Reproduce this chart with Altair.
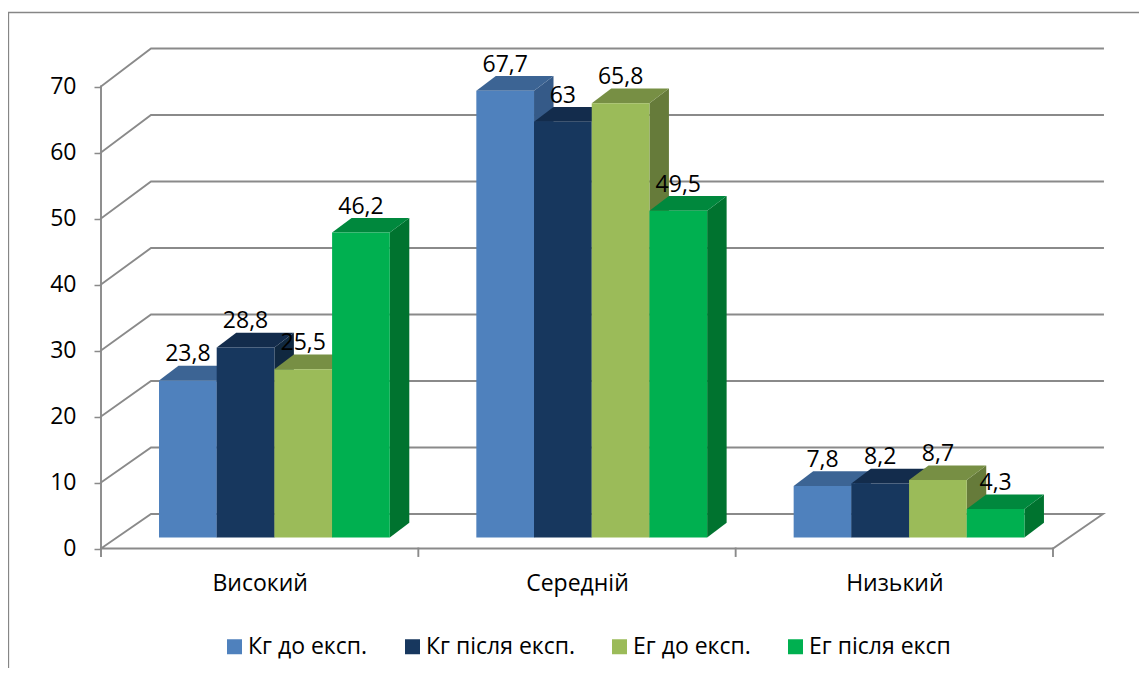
import json
import altair as alt
import pandas as pd

categories = ["Високий", "Середній", "Низький"]
series = ["Кг до експ.", "Кг після експ.", "Ег до експ.", "Ег після експ"]
values = {
    "Кг до експ.": [23.8, 67.7, 7.8],
    "Кг після експ.": [28.8, 63, 8.2],
    "Ег до експ.": [25.5, 65.8, 8.7],
    "Ег після експ": [46.2, 49.5, 4.3],
}
front_colors = ["#4F81BD", "#17375E", "#9BBB59", "#00B050"]
top_colors = ["#3C6494", "#132C4C", "#778F44", "#00883D"]
side_colors = ["#355A88", "#102840", "#667B3A", "#00732F"]
y_ticks = [0, 10, 20, 30, 40, 50, 60, 70]
x_ticks = [0, 1, 2, 3]

FONT = "Open Sans"
GREY = "#8A8A8A"
W, H = 1131, 660
PX_PER_CAT = 317.33
PX_PER_VAL = 6.6
X0_PX, Y0_PX = 101, 548.5


def cx(px):
    return (px - X0_PX) / PX_PER_CAT


def vy(py):
    return (Y0_PX - py) / PX_PER_VAL


x_scale = alt.Scale(domain=[cx(8), cx(8 + W)], range=[0, W], nice=False, zero=False)
y_scale = alt.Scale(domain=[vy(8 + H), vy(8)], range=[H, 0], nice=False, zero=False)

BAR_START = cx(159)
BAR_W = 57.7 / PX_PER_CAT
BASE = vy(537.5)
DX = 19.5 / PX_PER_CAT
DY = 14.7 / PX_PER_VAL
BACK_U = cx(151)
BACK_END = cx(1103)
BACK_LIFT = 5.227
BACK_SCALE = 1.0076

# Walls, floor, axis lines
lines = []


def add_line(name, pts):
    for i, (u, v) in enumerate(pts):
        lines.append({"g": name, "i": i, "u": u, "v": v})


for t in y_ticks:
    back = BACK_LIFT + BACK_SCALE * t
    if t == 0:
        add_line("floor", [(0, 0), (BACK_U, back), (BACK_END, back), (3, 0), (0, 0)])
    else:
        add_line(f"grid{t}", [(0, t), (BACK_U, back), (BACK_END, back)])
add_line("axis", [(0, 0), (0, 70)])
for t in x_ticks:
    add_line(f"tick{t}", [(t, 0), (t, vy(556))])
lines_df = pd.DataFrame(lines)

frame_df = pd.DataFrame(
    {"u": [cx(8.5), cx(8.5), cx(8 + W)], "v": [vy(8 + H), vy(12.5), vy(12.5)], "i": [0, 1, 2]}
)

labelexpr = json.dumps(categories) + "[floor(datum.value)]"
x_axis = alt.Axis(
    values=[0.5, 1.5, 2.5],
    labelExpr=labelexpr,
    ticks=False,
    domain=False,
    grid=False,
    title=None,
    offset=-(8 + H - 566),
    labelFont=FONT,
    labelFontSize=23,
    labelColor="#000000",
    labelPadding=6,
    labelOverlap=False,
)
y_axis = alt.Axis(
    values=y_ticks,
    domain=False,
    grid=False,
    title=None,
    offset=-(X0_PX - 8),
    tickSize=7,
    tickColor=GREY,
    tickWidth=1.5,
    labelFont=FONT,
    labelFontSize=23,
    labelColor="#000000",
    labelPadding=18,
)

x_enc = alt.X("u:Q", scale=x_scale, axis=x_axis)
y_enc = alt.Y("v:Q", scale=y_scale, axis=y_axis)

base_axes = (
    alt.Chart(lines_df)
    .mark_line(color=GREY, strokeWidth=1.9, strokeCap="square")
    .encode(x=x_enc, y=y_enc, detail="g:N", order="i:Q")
)

frame = (
    alt.Chart(frame_df)
    .mark_line(color="#868686", strokeWidth=1.3)
    .encode(x=x_enc, y=y_enc, order="i:Q")
)

layers = [frame, base_axes]
label_rows = []

for s_i, name in enumerate(series):
    front_rows, side_rows, top_rows = [], [], []
    for c_i, val in enumerate(values[name]):
        u0 = c_i + BAR_START + s_i * BAR_W
        u1 = u0 + BAR_W
        t = BASE + val
        bar = f"b{c_i}"
        front_rows.append({"u": u0, "u2": u1, "v": t, "v2": BASE, "Серія": name})
        side_rows += [
            {"bar": bar, "u": u1, "lo": BASE, "hi": t},
            {"bar": bar, "u": u1 + DX, "lo": BASE + DY, "hi": t + DY},
        ]
        top_rows += [
            {"bar": bar, "u": u0, "lo": t, "hi": t},
            {"bar": bar, "u": u0 + DX, "lo": t, "hi": t + DY},
            {"bar": bar, "u": u1, "lo": t, "hi": t + DY},
            {"bar": bar, "u": u1 + DX, "lo": t + DY, "hi": t + DY},
        ]
        label_rows.append(
            {"u": (u0 + u1) / 2, "v": t, "label": f"{val:g}".replace(".", ",")}
        )
    for rows, col in ((side_rows, side_colors[s_i]), (top_rows, top_colors[s_i])):
        layers.append(
            alt.Chart(pd.DataFrame(rows))
            .mark_area(color=col, opacity=1, orient="vertical")
            .encode(
                x=x_enc,
                y=alt.Y("lo:Q", scale=y_scale, axis=y_axis, stack=None),
                y2=alt.Y2("hi"),
                detail="bar:N",
            )
        )
    layers.append(
        alt.Chart(pd.DataFrame(front_rows))
        .mark_rect(opacity=1)
        .encode(
            x=x_enc,
            x2="u2:Q",
            y=y_enc,
            y2="v2:Q",
            color=alt.Color(
                "Серія:N",
                scale=alt.Scale(domain=series, range=front_colors),
                legend=alt.Legend(
                    title=None,
                    orient="none",
                    legendX=215,
                    legendY=627,
                    direction="horizontal",
                    columns=4,
                    symbolType="square",
                    symbolSize=225,
                    symbolStrokeWidth=0,
                    labelFont=FONT,
                    labelFontSize=23,
                    labelColor="#000000",
                    labelOffset=2,
                    columnPadding=33,
                    labelLimit=300,
                ),
            ),
        )
    )

labels = (
    alt.Chart(pd.DataFrame(label_rows))
    .mark_text(font=FONT, fontSize=23, color="#000000", baseline="middle", dy=-26)
    .encode(x=x_enc, y=y_enc, text="label:N")
)
layers.append(labels)

chart = (
    alt.layer(*layers)
    .properties(
        width=W,
        height=H,
        padding=0,
        autosize=alt.AutoSizeParams(type="none"),
        background="#FFFFFF",
    )
    .configure_view(stroke=None)
)

chart.save("out.html", embed_options={"renderer": "svg", "actions": False})
